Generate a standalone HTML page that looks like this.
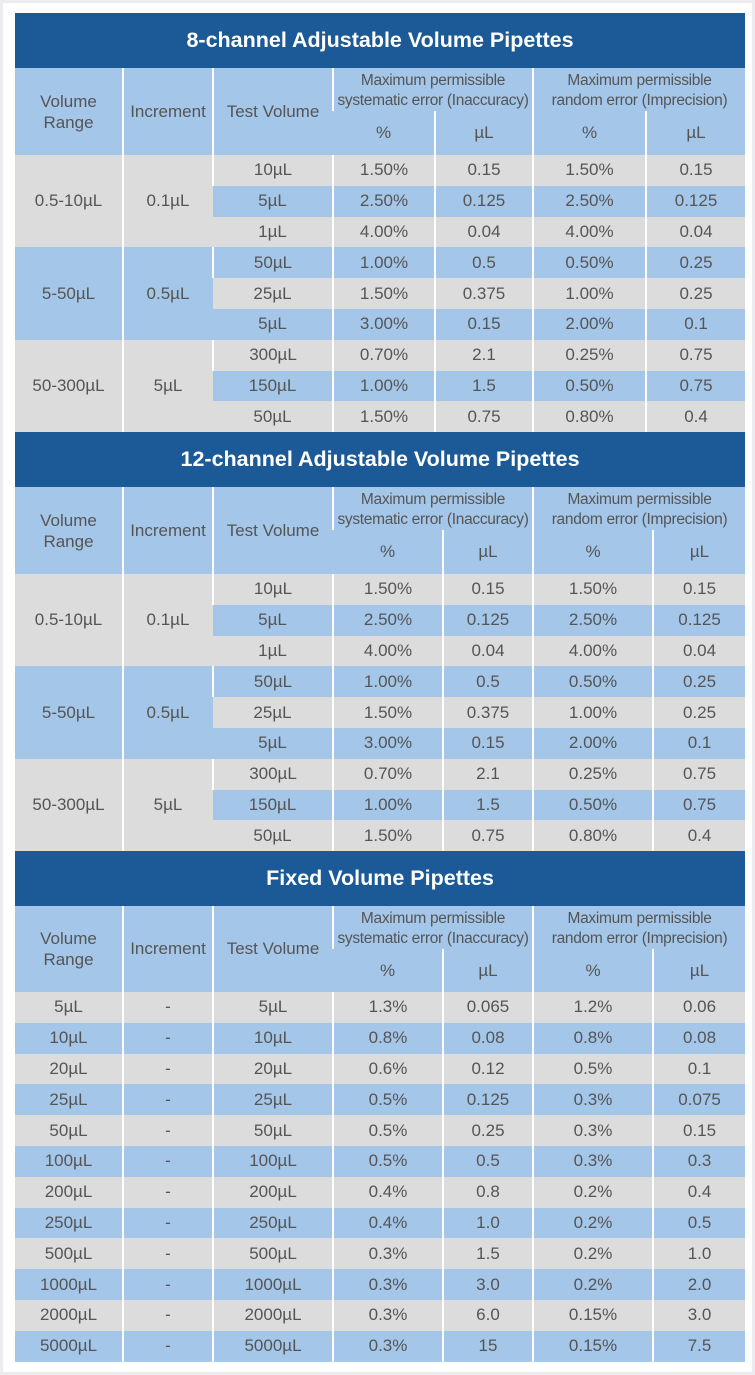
<!DOCTYPE html>
<html><head><meta charset="utf-8">
<style>
html,body{margin:0;padding:0;}
body{width:755px;height:1375px;background:#ececf0;position:relative;overflow:hidden;font-family:"Liberation Sans",sans-serif;}
.panel{position:absolute;left:3px;top:3px;width:749px;height:1369px;background:#fff;}
table{position:absolute;left:15px;width:730px;border-collapse:collapse;table-layout:fixed;color:#555;font-size:17px;}
td{padding:0;text-align:center;border-left:2px solid #fff;white-space:nowrap;}
td:first-child{border-left:none;}
.t td{background:#1b5a97;color:#fff;font-weight:bold;font-size:21.5px;height:55px;border:none;}
.h td{background:#a4c6e8;font-size:17px;}
.h td.m{font-size:15.5px;line-height:20px;padding-top:2px;letter-spacing:-0.3px;}
.g td{background:#dcdcdc;height:30.8px;}
.b td{background:#a4c6e8;height:30.8px;}
td.gg{background:#dcdcdc!important;}
td.bb{background:#a4c6e8!important;}
</style></head><body>
<div class="panel"></div>

<table style="top:13px">
<colgroup><col style="width:108px"><col style="width:90px"><col style="width:120px"><col style="width:102px"><col style="width:98px"><col style="width:113px"><col style="width:99px"></colgroup>
<tr class="t"><td colspan="7">8-channel Adjustable Volume Pipettes</td></tr>
<tr class="h"><td rowspan="2" style="line-height:21px">Volume<br>Range</td><td rowspan="2">Increment</td><td rowspan="2">Test Volume</td><td colspan="2" class="m" style="height:41px">Maximum permissible<br>systematic error (Inaccuracy)</td><td colspan="2" class="m">Maximum permissible<br>random error (Imprecision)</td></tr>
<tr class="h"><td style="height:44px">%</td><td>µL</td><td>%</td><td>µL</td></tr>
<tr class="g"><td rowspan="3" class="gg">0.5-10µL</td><td rowspan="3" class="gg">0.1µL</td><td>10µL</td><td>1.50%</td><td>0.15</td><td>1.50%</td><td>0.15</td></tr>
<tr class="b"><td>5µL</td><td>2.50%</td><td>0.125</td><td>2.50%</td><td>0.125</td></tr>
<tr class="g"><td>1µL</td><td>4.00%</td><td>0.04</td><td>4.00%</td><td>0.04</td></tr>
<tr class="b"><td rowspan="3" class="bb">5-50µL</td><td rowspan="3" class="bb">0.5µL</td><td>50µL</td><td>1.00%</td><td>0.5</td><td>0.50%</td><td>0.25</td></tr>
<tr class="g"><td>25µL</td><td>1.50%</td><td>0.375</td><td>1.00%</td><td>0.25</td></tr>
<tr class="b"><td>5µL</td><td>3.00%</td><td>0.15</td><td>2.00%</td><td>0.1</td></tr>
<tr class="g"><td rowspan="3" class="gg">50-300µL</td><td rowspan="3" class="gg">5µL</td><td>300µL</td><td>0.70%</td><td>2.1</td><td>0.25%</td><td>0.75</td></tr>
<tr class="b"><td>150µL</td><td>1.00%</td><td>1.5</td><td>0.50%</td><td>0.75</td></tr>
<tr class="g"><td>50µL</td><td>1.50%</td><td>0.75</td><td>0.80%</td><td>0.4</td></tr>
</table>

<table style="top:432px">
<colgroup><col style="width:108px"><col style="width:90px"><col style="width:120px"><col style="width:110px"><col style="width:90px"><col style="width:120px"><col style="width:92px"></colgroup>
<tr class="t"><td colspan="7">12-channel Adjustable Volume Pipettes</td></tr>
<tr class="h"><td rowspan="2" style="line-height:21px">Volume<br>Range</td><td rowspan="2">Increment</td><td rowspan="2">Test Volume</td><td colspan="2" class="m" style="height:41px">Maximum permissible<br>systematic error (Inaccuracy)</td><td colspan="2" class="m">Maximum permissible<br>random error (Imprecision)</td></tr>
<tr class="h"><td style="height:44px">%</td><td>µL</td><td>%</td><td>µL</td></tr>
<tr class="g"><td rowspan="3" class="gg">0.5-10µL</td><td rowspan="3" class="gg">0.1µL</td><td>10µL</td><td>1.50%</td><td>0.15</td><td>1.50%</td><td>0.15</td></tr>
<tr class="b"><td>5µL</td><td>2.50%</td><td>0.125</td><td>2.50%</td><td>0.125</td></tr>
<tr class="g"><td>1µL</td><td>4.00%</td><td>0.04</td><td>4.00%</td><td>0.04</td></tr>
<tr class="b"><td rowspan="3" class="bb">5-50µL</td><td rowspan="3" class="bb">0.5µL</td><td>50µL</td><td>1.00%</td><td>0.5</td><td>0.50%</td><td>0.25</td></tr>
<tr class="g"><td>25µL</td><td>1.50%</td><td>0.375</td><td>1.00%</td><td>0.25</td></tr>
<tr class="b"><td>5µL</td><td>3.00%</td><td>0.15</td><td>2.00%</td><td>0.1</td></tr>
<tr class="g"><td rowspan="3" class="gg">50-300µL</td><td rowspan="3" class="gg">5µL</td><td>300µL</td><td>0.70%</td><td>2.1</td><td>0.25%</td><td>0.75</td></tr>
<tr class="b"><td>150µL</td><td>1.00%</td><td>1.5</td><td>0.50%</td><td>0.75</td></tr>
<tr class="g"><td>50µL</td><td>1.50%</td><td>0.75</td><td>0.80%</td><td>0.4</td></tr>
</table>

<table style="top:851px">
<colgroup><col style="width:108px"><col style="width:90px"><col style="width:120px"><col style="width:110px"><col style="width:90px"><col style="width:120px"><col style="width:92px"></colgroup>
<tr class="t"><td colspan="7">Fixed Volume Pipettes</td></tr>
<tr class="h"><td rowspan="2" style="line-height:21px">Volume<br>Range</td><td rowspan="2">Increment</td><td rowspan="2">Test Volume</td><td colspan="2" class="m" style="height:41px">Maximum permissible<br>systematic error (Inaccuracy)</td><td colspan="2" class="m">Maximum permissible<br>random error (Imprecision)</td></tr>
<tr class="h"><td style="height:43px">%</td><td>µL</td><td>%</td><td>µL</td></tr>
<tr class="g"><td>5µL</td><td>-</td><td>5µL</td><td>1.3%</td><td>0.065</td><td>1.2%</td><td>0.06</td></tr>
<tr class="b"><td>10µL</td><td>-</td><td>10µL</td><td>0.8%</td><td>0.08</td><td>0.8%</td><td>0.08</td></tr>
<tr class="g"><td>20µL</td><td>-</td><td>20µL</td><td>0.6%</td><td>0.12</td><td>0.5%</td><td>0.1</td></tr>
<tr class="b"><td>25µL</td><td>-</td><td>25µL</td><td>0.5%</td><td>0.125</td><td>0.3%</td><td>0.075</td></tr>
<tr class="g"><td>50µL</td><td>-</td><td>50µL</td><td>0.5%</td><td>0.25</td><td>0.3%</td><td>0.15</td></tr>
<tr class="b"><td>100µL</td><td>-</td><td>100µL</td><td>0.5%</td><td>0.5</td><td>0.3%</td><td>0.3</td></tr>
<tr class="g"><td>200µL</td><td>-</td><td>200µL</td><td>0.4%</td><td>0.8</td><td>0.2%</td><td>0.4</td></tr>
<tr class="b"><td>250µL</td><td>-</td><td>250µL</td><td>0.4%</td><td>1.0</td><td>0.2%</td><td>0.5</td></tr>
<tr class="g"><td>500µL</td><td>-</td><td>500µL</td><td>0.3%</td><td>1.5</td><td>0.2%</td><td>1.0</td></tr>
<tr class="b"><td>1000µL</td><td>-</td><td>1000µL</td><td>0.3%</td><td>3.0</td><td>0.2%</td><td>2.0</td></tr>
<tr class="g"><td>2000µL</td><td>-</td><td>2000µL</td><td>0.3%</td><td>6.0</td><td>0.15%</td><td>3.0</td></tr>
<tr class="b"><td>5000µL</td><td>-</td><td>5000µL</td><td>0.3%</td><td>15</td><td>0.15%</td><td>7.5</td></tr>
</table>
</body></html>
